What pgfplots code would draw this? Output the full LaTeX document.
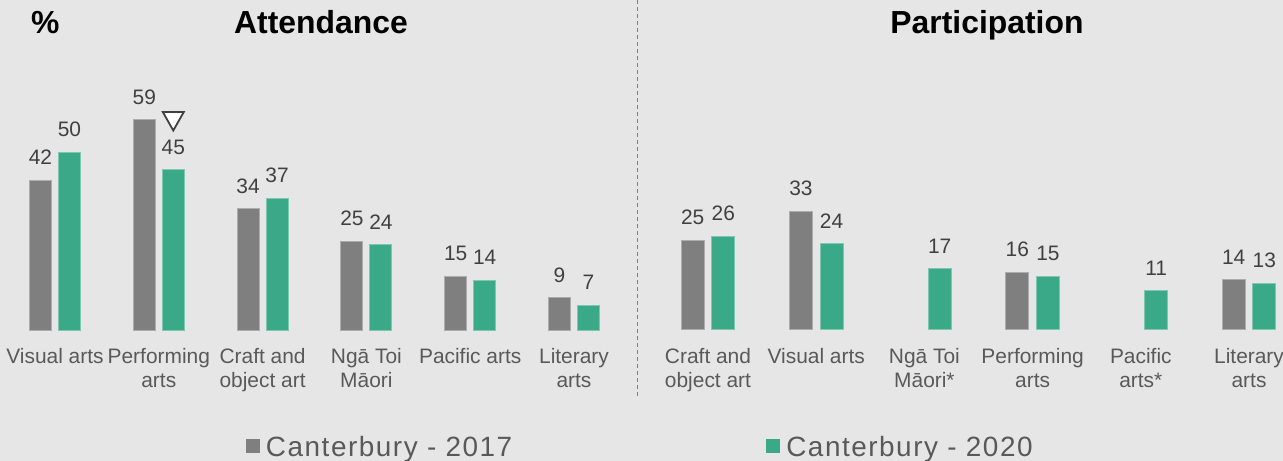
\documentclass[border=0pt]{standalone}
\usepackage{pgfplots}
\pgfplotsset{compat=1.18}
\usepackage{fontspec}
\setmainfont{Liberation Sans}
\definecolor{bg}{HTML}{E6E6E6}
\definecolor{barGray}{HTML}{7F7F7F}
\definecolor{barGreen}{HTML}{3AA987}
\definecolor{valText}{HTML}{404040}
\definecolor{catText}{HTML}{595959}
\newcommand{\tri}{\tikz[baseline=0pt, reset cm, x=1bp, y=1bp]\draw[line width=1.8bp, draw=valText, fill=white, line join=miter] (0,0) -- (21,0) -- (10.5,-18.5) -- cycle;}
\pgfplotsset{
  panel/.style={
    scale only axis, ybar, ymin=0, ymax=70, clip=false,
    axis line style={draw=none}, tick style={draw=none}, major tick length=0pt,
    ytick=\empty, xtick={0,...,5},
    xticklabel style={font=\fontsize{21}{24}\selectfont, text=catText, align=center, anchor=north, inner sep=0pt, yshift=-18bp},
    nodes near coords,
    nodes near coords style={font=\fontsize{21}{24}\selectfont, text=valText, anchor=south, inner sep=0pt, yshift=15bp},
    /pgf/number format/assume math mode=true,
  },
  s17/.style={fill=barGray, draw=barGray!65!white, line width=1bp},
  s20/.style={fill=barGreen, draw=barGreen!65!white, line width=1bp},
}
\begin{document}
\begin{tikzpicture}
\fill[bg] (0,0) rectangle (1283bp,461bp);
\useasboundingbox (0,0) rectangle (1283bp,461bp);
\draw[dash pattern=on 4bp off 3bp, color=barGray, line width=1bp] (637bp,461bp) -- (637bp,64bp);
\node[anchor=base west, font=\fontsize{32}{36}\selectfont\bfseries, inner sep=0pt] at (31bp,427bp) {\%};
\node[anchor=base, font=\fontsize{32}{36}\selectfont\bfseries, inner sep=0pt] at (321bp,427bp) {Attendance};
\node[anchor=base, font=\fontsize{32}{36}\selectfont\bfseries, inner sep=0pt] at (987bp,427bp) {Participation};

\begin{axis}[panel, at={(3.1bp,131bp)}, anchor=south west,
  width=622.8bp, height=249.2bp, xmin=-0.5, xmax=5.5, bar width=22bp,
  xticklabels={{Visual arts}, {Performing\\arts}, {Craft and\\object art}, {Ngā Toi\\Māori}, {Pacific arts}, {Literary\\arts}},
  legend columns=2,
  legend image code/.code={\path[#1, draw=none] (0bp,-6.3bp) rectangle (14bp,7.7bp);},
  legend style={at={(0.39,-0.513)}, anchor=south west, draw=none, fill=none, inner sep=0pt, outer sep=0pt,
    nodes={inner sep=0pt, text=catText, font=\fontsize{28}{32}\selectfont\addfontfeatures{LetterSpace=5.5}},
    /tikz/every odd column/.append style={column sep=6bp},
    /tikz/every even column/.append style={column sep=254bp}},
  legend cell align=left]
\addplot[s17, bar shift=-14.5bp] coordinates {(0,42) (1,59) (2,34) (3,25) (4,15) (5,9)};
\addlegendentry{Canterbury - 2017}
\addplot[s20, bar shift=14.5bp] coordinates {(0,50) (1,45) (2,37) (3,24) (4,14) (5,7)};
\addlegendentry{Canterbury - 2020}
\addplot[draw=none, fill=none, bar shift=14.5bp, forget plot, nodes near coords={\tri}, nodes near coords style={yshift=23.2bp}] coordinates {(1,45)};
\end{axis}

\begin{axis}[panel, at={(653.9bp,131bp)}, anchor=south west,
  width=629.1bp, height=251.3bp, xmin=-0.5, xmax=5.314, bar width=23bp,
  xticklabels={{Craft and\\object art}, {Visual arts}, {Ngā Toi\\Māori*}, {Performing\\arts}, {Pacific\\arts*}, {Literary\\arts}}]
\addplot[s17, bar shift=-15.3bp] coordinates {(0,25) (1,33) (3,16) (5,14)};
\addplot[s20, bar shift=15.3bp] coordinates {(0,26) (1,24) (2,17) (3,15) (4,11) (5,13)};
\end{axis}
\end{tikzpicture}
\end{document}
